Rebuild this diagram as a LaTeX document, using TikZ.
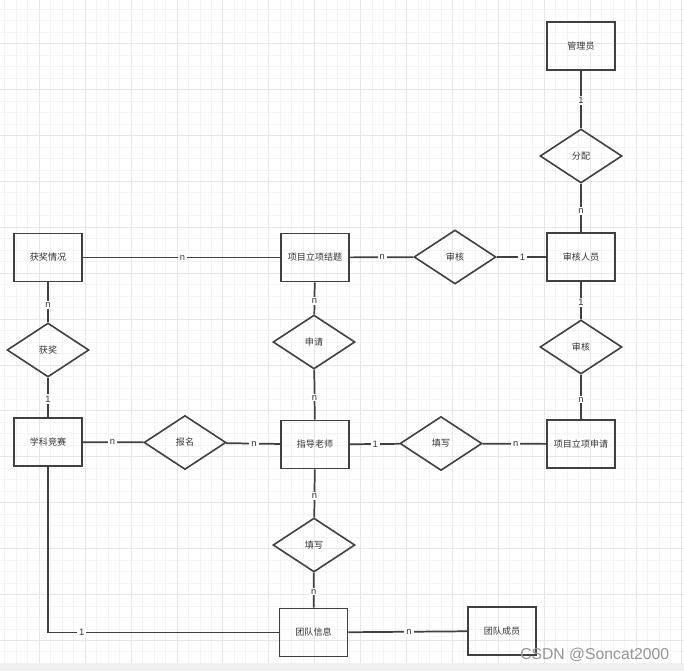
\documentclass[tikz,border=0pt]{standalone}
\usepackage{fontspec}
\setmainfont{Liberation Sans}
\newfontfamily\cjk{Noto Sans CJK SC}
\usetikzlibrary{shapes.geometric}
\definecolor{ln}{HTML}{404040}
\definecolor{txt}{HTML}{333333}
\definecolor{gminor}{HTML}{F3F3F3}
\definecolor{gmajor}{HTML}{E6E6E6}
\definecolor{band}{HTML}{F0F0F0}
\begin{document}
\begin{tikzpicture}[x=0.75pt,y=-0.75pt,
  ent/.style={draw=ln, line width=1.4pt, minimum width=51pt, minimum height=36pt, inner sep=0pt, font=\cjk\fontsize{6.8}{8}\selectfont, text=txt},
  rel/.style={diamond, draw=ln, line width=1.2pt, aspect=1.52, minimum width=61.5pt, minimum height=40.5pt, inner sep=0pt, font=\cjk\fontsize{6.8}{8}\selectfont, text=txt},
  card/.style={fill=white, inner xsep=1.6pt, inner ysep=1pt, font=\fontsize{7}{8}\selectfont, text=txt},
  conn/.style={draw=ln, line width=1.3pt},
  gmin/.style={draw=gminor, line width=0.75pt},
  gmaj/.style={draw=gmajor, line width=0.75pt}]
\useasboundingbox (0,0) rectangle (684,671);
\fill[white] (0,0) rectangle (684,671);
\fill[band] (0,662.7) rectangle (684,671);
% grid
\foreach \i in {0,...,59} \draw[gmin] ({4.95+\i*11.475},0) -- ({4.95+\i*11.475},662.7);
\foreach \i in {0,...,56} \draw[gmin] (0,{9.35+\i*11.475}) -- (684,{9.35+\i*11.475});
\foreach \i in {0,...,14} \draw[gmaj] ({39.3+\i*45.9},0) -- ({39.3+\i*45.9},662.7);
\foreach \i in {0,...,13} \draw[gmaj] (0,{43.7+\i*45.9}) -- (684,{43.7+\i*45.9});
% entities
\node[ent] (gly)  at (581,46)    {管理员};
\node[ent] (shry) at (581,257)   {审核人员};
\node[ent] (xmsq) at (581,444)   {项目立项申请};
\node[ent] (jt)   at (315,257.5) {项目立项结题};
\node[ent] (hjqk) at (48,257.5)  {获奖情况};
\node[ent] (xkjs) at (48,442)    {学科竞赛};
\node[ent] (zd)   at (315,444.5) {指导老师};
\node[ent] (tdxx) at (313.5,632.5) {团队信息};
\node[ent] (tdcy) at (502,631)   {团队成员};
% relations
\node[rel] (fp)  at (581,156)   {分配};
\node[rel] (sh1) at (455,257)   {审核};
\node[rel] (sh2) at (581,347)   {审核};
\node[rel] (tx1) at (441,443.5) {填写};
\node[rel] (sq)  at (314,342)   {申请};
\node[rel] (hj)  at (48,350)    {获奖};
\node[rel] (bm)  at (185,442.5) {报名};
\node[rel] (tx2) at (314,545)   {填写};
% connectors
\draw[conn] (gly) -- node[card,pos=0.52] {1} (fp);
\draw[conn] (fp) -- node[card,pos=0.56] {n} (shry);
\draw[conn] (shry) -- node[card,pos=0.55] {1} (sh2);
\draw[conn] (sh2) -- node[card,pos=0.56] {n} (xmsq);
\draw[conn] (jt) -- node[card,pos=0.51] {n} (sh1);
\draw[conn] (sh1) -- node[card,pos=0.52] {1} (shry);
\draw[conn] (hjqk) -- node[card,pos=0.505] {n} (jt);
\draw[conn] (hjqk) -- node[card,pos=0.56] {n} (hj);
\draw[conn] (hj) -- node[card,pos=0.54] {1} (xkjs);
\draw[conn] (jt) -- node[card,pos=0.58] {n} (sq);
\draw[conn] (sq) -- node[card,pos=0.56] {n} (zd);
\draw[conn] (xkjs) -- node[card,pos=0.49] {n} (bm);
\draw[conn] (bm) -- node[card,pos=0.52] {n} (zd);
\draw[conn] (zd) -- node[card,pos=0.51] {1} (tx1);
\draw[conn] (tx1) -- node[card,pos=0.52] {n} (xmsq);
\draw[conn] (zd) -- node[card,pos=0.56] {n} (tx2);
\draw[conn] (tx2) -- node[card,pos=0.54] {n} (tdxx);
\draw[conn] (xkjs.south) |- node[card,pos=0.573] {1} (tdxx.west);
\draw[conn] (tdxx) -- node[card,pos=0.51] {n} (tdcy);
% watermark
\node[text=black!42, font=\fontsize{11.8}{13}\selectfont, inner sep=0pt] (wm) at (594.7,655) {CSDN @Soncat2000};
\end{tikzpicture}
\end{document}
